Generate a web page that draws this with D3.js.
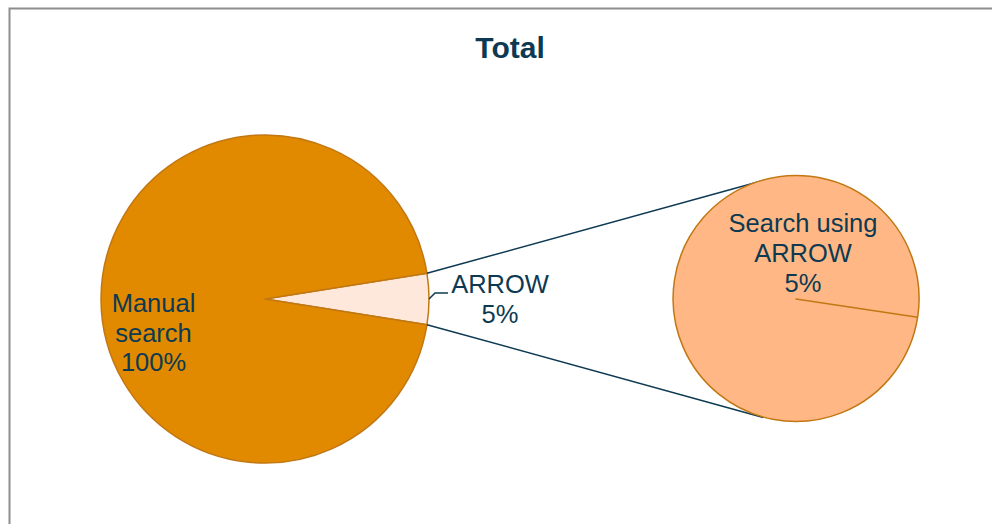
<!DOCTYPE html>
<html>
<head>
<meta charset="utf-8">
<script src="https://cdn.jsdelivr.net/npm/d3@7"></script>
<style>
  html, body { margin: 0; padding: 0; background: #fff; }
  svg { display: block; font-family: "Liberation Sans", Arial, sans-serif; }
</style>
</head>
<body>
<div id="chart"></div>
<script>
const TITLE = "Total";

// main pie
const mainCategories = ["Manual search", "ARROW"];
const mainShares = [95, 5];
const mainLabels = ["100%", "5%"];

// secondary pie (breakdown of the ARROW slice)
const subCategories = ["Search using ARROW"];
const subShares = [5];
const subLabels = ["5%"];

const COLORS = {
  manual: "#E18A00",
  arrow: "#FDE8DB",
  sub: "#FFB885",
  sliceStroke: "#C27712",
  text: "#0D3A52",
  connector: "#0D3A52",
  frame: "#8E8E8E",
};

const width = 992;
const height = 524;

const main = { cx: 265, cy: 299, r: 164 };
const sub = { cx: 796, cy: 299, r: 123 };

const svg = d3.select("#chart")
  .append("svg")
  .attr("width", width)
  .attr("height", height);

/* chart area frame (right and bottom edges fall outside the picture) */
svg.append("rect")
  .attr("x", 9.5)
  .attr("y", 8.5)
  .attr("width", 1100)
  .attr("height", 700)
  .attr("fill", "none")
  .attr("stroke", COLORS.frame)
  .attr("stroke-width", 2);

svg.append("text")
  .attr("x", 510)
  .attr("y", 58)
  .attr("text-anchor", "middle")
  .style("font-size", "30px")
  .style("font-weight", "bold")
  .attr("fill", COLORS.text)
  .text(TITLE);

/* main pie: ARROW slice centred on 3 o'clock */
const mainData = mainCategories.map((name, i) => ({ name, value: mainShares[i], label: mainLabels[i] }));
const total = d3.sum(mainShares);
const arrowShare = mainShares[1] / total;
const mainPie = d3.pie()
  .value((d) => d.value)
  .sort(null)
  .startAngle(Math.PI / 2 - arrowShare * Math.PI)
  .endAngle(Math.PI / 2 - arrowShare * Math.PI + 2 * Math.PI);
// ARROW first so it starts at the right
const mainArcs = mainPie([mainData[1], mainData[0]]);
const mainArc = d3.arc().innerRadius(0).outerRadius(main.r);

const gMain = svg.append("g").attr("transform", `translate(${main.cx},${main.cy})`);
gMain.selectAll("path")
  .data(mainArcs)
  .join("path")
  .attr("d", mainArc)
  .attr("fill", (d) => (d.data.name === "ARROW" ? COLORS.arrow : COLORS.manual))
  .attr("stroke", COLORS.sliceStroke)
  .attr("stroke-width", 1.5)
  .attr("stroke-linejoin", "round");

/* secondary pie: one slice, its edge drawn slightly below 3 o'clock */
const subStart = Math.PI / 2 + (8.5 * Math.PI) / 180;
const subPie = d3.pie()
  .value((d) => d)
  .sort(null)
  .startAngle(subStart)
  .endAngle(subStart + 2 * Math.PI - 1e-4);
const subArcs = subPie(subShares);
const subArc = d3.arc().innerRadius(0).outerRadius(sub.r);

/* connector lines: ARROW slice corners to tangents of the secondary pie */
function tangentPoint(px, py, upper) {
  const dx = px - sub.cx;
  const dy = py - sub.cy;
  const d = Math.hypot(dx, dy);
  const phi = Math.atan2(dy, dx);
  const a = Math.acos(sub.r / d);
  const t1 = phi + a;
  const t2 = phi - a;
  const p1 = [sub.cx + sub.r * Math.cos(t1), sub.cy + sub.r * Math.sin(t1)];
  const p2 = [sub.cx + sub.r * Math.cos(t2), sub.cy + sub.r * Math.sin(t2)];
  return upper ? (p1[1] < p2[1] ? p1 : p2) : (p1[1] > p2[1] ? p1 : p2);
}
const arrowArc = mainArcs[0];
const cornerTop = [
  main.cx + main.r * Math.sin(arrowArc.startAngle),
  main.cy - main.r * Math.cos(arrowArc.startAngle),
];
const cornerBottom = [
  main.cx + main.r * Math.sin(arrowArc.endAngle),
  main.cy - main.r * Math.cos(arrowArc.endAngle),
];
const connectors = [
  [cornerTop, tangentPoint(cornerTop[0], cornerTop[1], true)],
  [cornerBottom, tangentPoint(cornerBottom[0], cornerBottom[1], false)],
];
svg.append("g")
  .selectAll("line")
  .data(connectors)
  .join("line")
  .attr("x1", (d) => d[0][0])
  .attr("y1", (d) => d[0][1])
  .attr("x2", (d) => d[1][0])
  .attr("y2", (d) => d[1][1])
  .attr("stroke", COLORS.connector)
  .attr("stroke-width", 1.5);

const gSub = svg.append("g").attr("transform", `translate(${sub.cx},${sub.cy})`);
gSub.selectAll("path")
  .data(subArcs)
  .join("path")
  .attr("d", subArc)
  .attr("fill", COLORS.sub)
  .attr("stroke", COLORS.sliceStroke)
  .attr("stroke-width", 1.5)
  .attr("stroke-linejoin", "round");

/* labels */
function multiLine(g, x, y, lines, lineHeight) {
  const t = g.append("text")
    .attr("text-anchor", "middle")
    .attr("fill", COLORS.text)
    .style("font-size", "25.5px");
  lines.forEach((s, i) => {
    t.append("tspan").attr("x", x).attr("y", y + i * lineHeight).text(s);
  });
  return t;
}

// Manual search, inside the big slice
const manualArc = mainArcs[1];
const manualPos = d3.arc().innerRadius(main.r * 0.68).outerRadius(main.r * 0.68).centroid(manualArc);
multiLine(gMain, manualPos[0], manualPos[1] + 13, ["Manual", "search", manualArc.data.label], 29.5);

// ARROW, outside with a short leader
const edgeMid = d3.arc().innerRadius(main.r).outerRadius(main.r).centroid(arrowArc);
gMain.append("polyline")
  .attr("points", [
    [edgeMid[0], edgeMid[1]],
    [edgeMid[0] + 6, edgeMid[1] - 6],
    [edgeMid[0] + 19, edgeMid[1] - 6],
  ].map((p) => p.join(",")).join(" "))
  .attr("fill", "none")
  .attr("stroke", COLORS.connector)
  .attr("stroke-width", 1.5);
multiLine(gMain, edgeMid[0] + 71, edgeMid[1] - 6, [arrowArc.data.name, arrowArc.data.label], 30);

// secondary pie label
multiLine(gSub, 7, -67, ["Search using", "ARROW", subLabels[0]], 30);
</script>
</body>
</html>
